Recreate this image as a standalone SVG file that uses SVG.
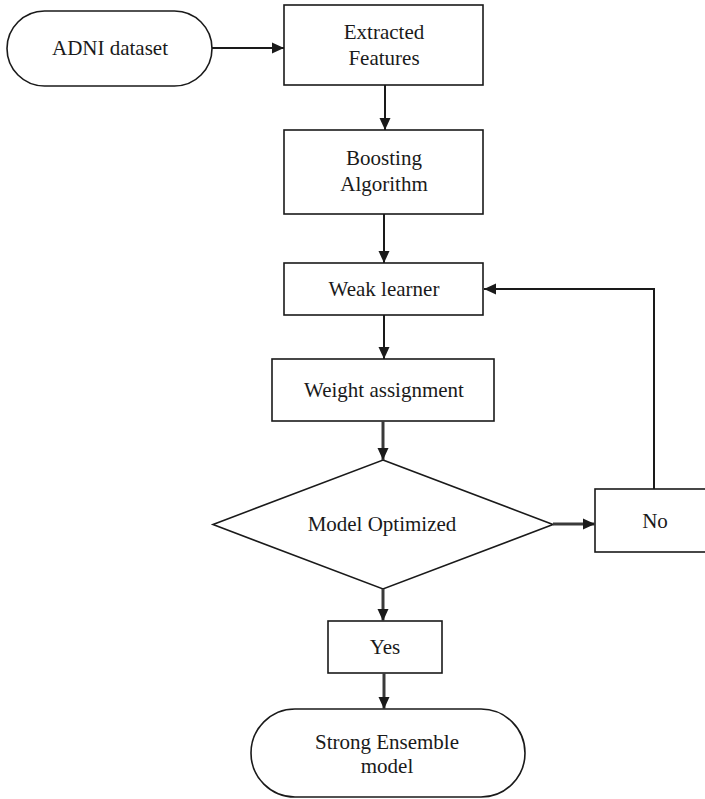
<svg xmlns="http://www.w3.org/2000/svg" width="705" height="799" viewBox="0 0 705 799">
  <style>
    .shape { fill: #ffffff; stroke: #1a1a1a; stroke-width: 1.6; }
    .label { font-family: 'Liberation Serif', 'Times New Roman', Times, 'DejaVu Serif', serif; font-size: 21px; fill: #1a1a1a; text-anchor: middle; }
    .link { fill: none; stroke: #1a1a1a; stroke-width: 2; marker-end: url(#arrow); }
    .link.soft { stroke: #3a3a3a; stroke-width: 3; }
  </style>
  <defs>
    <marker id="arrow" markerUnits="userSpaceOnUse" markerWidth="12" markerHeight="12" refX="12" refY="6" orient="auto">
      <path d="M0,0.5 L12,6 L0,11.5 z" fill="#1a1a1a"/>
    </marker>
  </defs>
  <rect width="705" height="799" fill="#ffffff"/>

  <g id="adni-dataset">
    <rect class="shape" x="7" y="11" width="205" height="75" rx="37.5"/>
    <text class="label" font-family="Liberation Serif, serif" x="110" y="55">ADNI dataset</text>
  </g>

  <g id="extracted-features">
    <rect class="shape" x="284" y="5" width="199" height="80"/>
    <text class="label" x="384" y="39">Extracted</text>
    <text class="label" x="384" y="65">Features</text>
  </g>

  <g id="boosting-algorithm">
    <rect class="shape" x="284" y="130" width="199" height="84"/>
    <text class="label" x="384" y="165">Boosting</text>
    <text class="label" x="384" y="191">Algorithm</text>
  </g>

  <g id="weak-learner">
    <rect class="shape" x="284" y="263" width="199" height="52"/>
    <text class="label" x="384" y="296">Weak learner</text>
  </g>

  <g id="weight-assignment">
    <rect class="shape" x="272" y="359" width="222" height="62"/>
    <text class="label" x="384" y="397">Weight assignment</text>
  </g>

  <g id="model-optimized">
    <polygon class="shape" points="383,460 553,524.5 383,589 213,524.5"/>
    <text class="label" x="382" y="531">Model Optimized</text>
  </g>

  <g id="no">
    <rect class="shape" x="595" y="489" width="115" height="63"/>
    <text class="label" x="655" y="528">No</text>
  </g>

  <g id="yes">
    <rect class="shape" x="328" y="621" width="114" height="52"/>
    <text class="label" x="385" y="654">Yes</text>
  </g>

  <g id="strong-ensemble-model">
    <rect class="shape" x="251" y="709" width="274" height="88" rx="44"/>
    <text class="label" x="387" y="749">Strong Ensemble</text>
    <text class="label" x="387" y="773">model</text>
  </g>

  <g id="connectors">
    <line class="link" x1="212" y1="48" x2="284" y2="48"/>
    <line class="link" x1="385" y1="85" x2="385" y2="130"/>
    <line class="link" x1="384" y1="214" x2="384" y2="263"/>
    <line class="link" x1="384" y1="315" x2="384" y2="359"/>
    <line class="link soft" x1="383" y1="421" x2="383" y2="460"/>
    <line class="link soft" x1="553" y1="524" x2="595" y2="524"/>
    <line class="link soft" x1="383" y1="589" x2="383" y2="621"/>
    <line class="link soft" x1="384" y1="673" x2="384" y2="709"/>
    <polyline class="link" points="654,489 654,289 484,289"/>
  </g>
</svg>
